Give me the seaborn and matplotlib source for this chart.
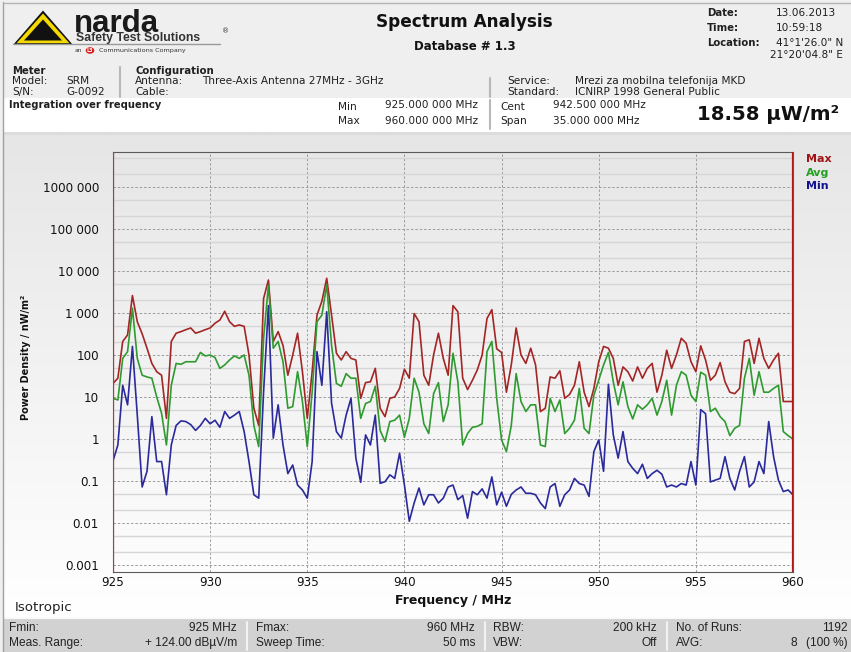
import numpy as np
import pandas as pd
import matplotlib
matplotlib.use("Agg")
import matplotlib.pyplot as plt
from matplotlib.patches import Polygon, Rectangle, Circle
from matplotlib.lines import Line2D
from matplotlib.colors import LinearSegmentedColormap
from matplotlib.ticker import FixedLocator, FixedFormatter, LogLocator, NullFormatter
import seaborn as sns

W, H = 851, 652

# sweep grid: Fmin 925 MHz .. Fmax 960 MHz, read every 0.25 MHz
freq = np.arange(925.0, 960.001, 0.25)

# power density in nW/m^2, one row per MHz (925.00, 925.25, 925.50, 925.75)
max_trace = [
    21, 28, 210, 300,
    2600, 620, 320, 145,
    63, 40, 33, 3.1,
    210, 330, 360, 400,
    440, 330, 360, 400,
    440, 570, 680, 1100,
    620, 480, 520, 480,
    100, 5.4, 2.1, 2200,
    6100, 210, 360, 170,
    33, 100, 330, 40,
    3.1, 40, 890, 1900,
    6700, 890, 110, 76,
    120, 83, 76, 9.3,
    22, 23, 48, 5.4,
    3.4, 9.3, 10, 16,
    46, 28, 970, 620,
    33, 19, 100, 330,
    83, 33, 1500, 1070,
    28, 15, 25, 44,
    100, 740, 1200, 140,
    115, 13, 58, 440,
    100, 63, 145, 58,
    4.5, 5.4, 30, 28,
    42, 9.3, 11.5, 19,
    69, 13, 5.9, 16,
    69, 160, 145, 83,
    19, 52, 40, 24,
    52, 28, 48, 63,
    13, 33, 130, 48,
    100, 250, 190, 69,
    40, 165, 76, 25,
    33, 66, 23, 13,
    12, 16, 210, 230,
    63, 250, 83, 48,
    76, 110, 7.8, 7.8,
    7.8,
]

avg_trace = [
    9.3, 8.5, 83, 120,
    1300, 83, 33, 30,
    28, 10, 4.1, 0.72,
    19, 63, 60, 69,
    69, 69, 115, 95,
    100, 87, 48, 58,
    76, 95, 83, 100,
    33, 2.1, 0.66, 250,
    4500, 145, 210, 69,
    5.4, 5.9, 40, 7.8,
    0.66, 13, 620, 890,
    4700, 170, 21, 18,
    36, 28, 28, 3.1,
    7, 7.8, 18, 1.6,
    0.87, 2.6, 2.8, 3.7,
    1.1, 3.1, 28, 13,
    2.3, 1.35, 12, 22,
    2.6, 6.5, 110, 23,
    0.72, 1.35, 1.9, 2.0,
    2.3, 120, 210, 9.3,
    0.95, 0.5, 2.1, 36,
    7.8, 4.5, 6.5, 6.5,
    0.72, 0.66, 9.3, 4.5,
    8.5, 1.35, 1.8, 2.8,
    16, 1.8, 1.35, 11,
    25, 58, 115, 23,
    6.5, 23, 5.9, 3.0,
    6.5, 5.1, 6.5, 9.3,
    3.7, 7.8, 25, 3.7,
    19, 40, 33, 11,
    7.8, 39, 33, 4.5,
    5.4, 3.4, 2.6, 1.2,
    1.8, 2.1, 28, 83,
    11, 40, 13, 13,
    16, 19, 1.5, 1.2,
    1.0,
]

min_trace = [
    0.3, 0.72, 19, 6.5,
    160, 3.7, 0.072, 0.17,
    3.4, 0.29, 0.29, 0.047,
    0.72, 2.1, 2.7, 2.6,
    2.2, 1.6, 2.1, 3.1,
    2.3, 2.8, 1.9, 4.5,
    3.1, 3.7, 4.5, 1.5,
    0.29, 0.047, 0.039, 13,
    1500, 1.05, 6.5, 0.72,
    0.15, 0.24, 0.08, 0.061,
    0.039, 0.29, 120, 19,
    1070, 7.1, 1.5, 1.05,
    3.7, 9.3, 0.35, 0.093,
    1.25, 0.72, 3.7, 0.088,
    0.096, 0.14, 0.115, 0.46,
    0.08, 0.011, 0.03, 0.068,
    0.027, 0.047, 0.047, 0.03,
    0.039, 0.072, 0.08, 0.036,
    0.045, 0.013, 0.056, 0.047,
    0.065, 0.039, 0.125, 0.027,
    0.054, 0.025, 0.048, 0.061,
    0.072, 0.051, 0.051, 0.047,
    0.03, 0.022, 0.072, 0.087,
    0.025, 0.047, 0.061, 0.115,
    0.087, 0.08, 0.043, 0.5,
    0.95, 0.17, 20, 1.25,
    0.35, 1.5, 0.29, 0.2,
    0.15, 0.25, 0.115, 0.15,
    0.18, 0.145, 0.072, 0.08,
    0.072, 0.087, 0.08, 0.29,
    0.08, 5, 4, 0.095,
    0.105, 0.115, 0.38, 0.115,
    0.061, 0.17, 0.38, 0.072,
    0.095, 0.29, 0.15, 2.6,
    0.38, 0.105, 0.056, 0.061,
    0.047,
]

trace_names = ["Max", "Avg", "Min"]
trace_colors = {"Max": "#a32626", "Avg": "#2f9a2f", "Min": "#2a2a9c"}
legend_colors = {"Max": "#a01414", "Avg": "#22a022", "Min": "#14148f"}

y_ticks = [1e-3, 1e-2, 1e-1, 1, 10, 100, 1e3, 1e4, 1e5, 1e6]
y_labels = ["0.001", "0.01", "0.1", "1", "10", "100", "1 000", "10 000", "100 000", "1000 000"]
x_ticks = [925, 930, 935, 940, 945, 950, 955, 960]

sns.set_style("white")
plt.rcParams["font.family"] = ["DejaVu Sans"]

fig = plt.figure(figsize=(W / 100, H / 100), dpi=100)
fig.patch.set_facecolor("#efefef")


def fx(x):
    return x / W


def fy(y):
    return 1 - y / H


def txt(x, y, s, **kw):
    kw.setdefault("va", "center")
    kw.setdefault("fontsize", 7.6)
    kw.setdefault("color", "#202020")
    fig.text(fx(x), fy(y), s, **kw)


def box(x0, y0, x1, y1, color, z=0):
    fig.patches.append(Rectangle((fx(x0), fy(y1)), (x1 - x0) / W, (y1 - y0) / H,
                                 transform=fig.transFigure, facecolor=color,
                                 edgecolor="none", zorder=z))


def vline(x, y0, y1, color="#b8b8b8", lw=1.5):
    fig.add_artist(Line2D([fx(x), fx(x)], [fy(y0), fy(y1)], color=color, lw=lw))


def hline(y, x0, x1, color="#b8b8b8", lw=1.0):
    fig.add_artist(Line2D([fx(x0), fx(x1)], [fy(y), fy(y)], color=color, lw=lw))


# panel backgrounds
box(4, 98, W, 132, "white")
box(4, 132, W, 135, "#dcdcdc")
box(4, 619, W, H, "#d2d2d2")
hline(618, 4, W, "#fafafa", 1.5)
vline(3, 2, H, "#a0a0a0", 1.0)
hline(2.5, 3, W, "#b4b4b4", 1.0)

# gradient behind the chart panel
grad_cmap = LinearSegmentedColormap.from_list("panel", ["#e6e6e6", "#ffffff"])
bg = fig.add_axes([fx(4), fy(617), (W - 4) / W, (617 - 135) / H])
bg.imshow(np.linspace(0, 1, 256).reshape(-1, 1), aspect="auto", cmap=grad_cmap,
          extent=(0, 1, 0, 1))
bg.axis("off")

# logo
fig.add_artist(Polygon([(fx(13), fy(45)), (fx(43), fy(10.5)), (fx(73), fy(45))],
                       closed=True, transform=fig.transFigure, fc="#111111", ec="none"))
fig.add_artist(Polygon([(fx(16.5), fy(43.2)), (fx(43), fy(13.5)), (fx(69.5), fy(43.2))],
                       closed=True, transform=fig.transFigure, fc="#f4d800", ec="none"))
fig.add_artist(Polygon([(fx(24), fy(40.5)), (fx(43), fy(19.5)), (fx(62), fy(40.5))],
                       closed=True, transform=fig.transFigure, fc="#111111", ec="none"))
txt(74, 32.5, "narda", fontsize=22.5, fontweight="bold", va="baseline",
    family="Liberation Sans", color="#1a1a1a")
txt(76, 41.5, "Safety Test Solutions", fontsize=8.8, fontweight="bold", va="baseline",
    family="Liberation Sans", color="#333333")
txt(222, 31, "®", fontsize=5, color="#333333")
hline(44.3, 13, 220, "#9a9a9a", 1.0)
txt(75, 50.5, "an", fontsize=4.3, color="#333333")
fig.add_artist(Circle((fx(90), fy(50.5)), 4.3 / W, transform=fig.transFigure,
                      fc="#d42020", ec="none"))
txt(90, 50.5, "L3", fontsize=3.5, color="white", ha="center", fontweight="bold")
txt(99, 50.5, "Communications Company", fontsize=4.6, color="#333333")

# title block
txt(464, 22, "Spectrum Analysis", fontsize=12.2, fontweight="bold", ha="center", color="#111111")
txt(465, 46, "Database # 1.3", fontsize=8.5, fontweight="bold", ha="center", color="#111111")

txt(707, 12.5, "Date:", fontweight="bold", fontsize=7.3)
txt(776, 12.5, "13.06.2013")
txt(707, 28, "Time:", fontweight="bold", fontsize=7.3)
txt(776, 28, "10:59:18")
txt(707, 43, "Location:", fontweight="bold", fontsize=7.3)
txt(776, 43, "41°1'26.0\" N")
txt(770, 55, "21°20'04.8\" E")

txt(12, 70.5, "Meter", fontweight="bold", fontsize=7.3)
txt(12, 81, "Model:")
txt(66, 81, "SRM")
txt(12, 92, "S/N:")
txt(66, 92, "G-0092")
vline(120, 67, 97)
txt(135, 70.5, "Configuration", fontweight="bold", fontsize=7.3)
txt(135, 81, "Antenna:")
txt(202, 81, "Three-Axis Antenna 27MHz - 3GHz")
txt(135, 92, "Cable:")
vline(490, 78, 97)
txt(507, 81, "Service:")
txt(575, 81, "Mrezi za mobilna telefonija MKD")
txt(507, 92, "Standard:")
txt(575, 92, "ICNIRP 1998 General Public")

txt(9, 105.5, "Integration over frequency", fontweight="bold", fontsize=7.2)
txt(338, 106.5, "Min")
txt(385, 105.5, "925.000 000 MHz")
txt(338, 121.5, "Max")
txt(385, 120.5, "960.000 000 MHz")
vline(490, 100, 129)
txt(500, 106.5, "Cent")
txt(553, 105, "942.500 000 MHz")
txt(500, 121.5, "Span")
txt(553, 120.5, "35.000 000 MHz")
txt(697, 115, "18.58 µW/m²", fontsize=14.2, fontweight="bold", color="#111111")

# main spectrum axes
ax = fig.add_axes([fx(113), fy(572), (793 - 113) / W, (572 - 152) / H])
ax.set_facecolor("none")
ax.set_yscale("log")

df = pd.DataFrame({"Frequency": freq, "Max": max_trace, "Avg": avg_trace, "Min": min_trace})
long_df = df.melt(id_vars="Frequency", value_vars=trace_names,
                  var_name="Trace", value_name="Power")
sns.lineplot(data=long_df, x="Frequency", y="Power", hue="Trace", hue_order=trace_names,
             palette=trace_colors, linewidth=1.2, estimator=None, legend=False, ax=ax,
             zorder=3)

ax.set_xlim(925, 960)
ax.set_ylim(10 ** -3.167, 10 ** 6.833)
ax.yaxis.set_major_locator(FixedLocator(y_ticks))
ax.yaxis.set_major_formatter(FixedFormatter(y_labels))
ax.yaxis.set_minor_locator(LogLocator(base=10, subs=(2.0, 5.0), numticks=20))
ax.yaxis.set_minor_formatter(NullFormatter())
ax.set_xticks(x_ticks)
ax.set_xticklabels([str(t) for t in x_ticks])
ax.tick_params(axis="both", which="both", length=0, labelsize=8.6, colors="#111111")
ax.tick_params(axis="y", pad=10)
ax.tick_params(axis="x", pad=3)

ax.grid(True, which="major", axis="both", color="#9c9c9c", lw=0.7, ls=(0, (2.5, 2)))
ax.grid(True, which="minor", axis="y", color="#d6d6d6", lw=1.0, ls="-")
ax.set_axisbelow(True)
for side in ["left", "right", "top", "bottom"]:
    ax.spines[side].set_color("#5a5a5a")
    ax.spines[side].set_linewidth(0.8)
ax.axvline(925, color="#d42a2a", lw=1.6, zorder=4)
ax.axvline(960, color="#b01818", lw=1.6, zorder=4)

ax.set_xlabel("Frequency / MHz", fontsize=9, fontweight="bold", color="#111111")
ax.xaxis.set_label_coords(0.5, -0.052)
ax.set_ylabel("Power Density / nW/m²", fontsize=7, fontweight="bold", color="#111111")
ax.yaxis.set_label_coords(-0.12, 0.51)

for i, name in enumerate(trace_names):
    txt(806, 159 + 13.5 * i, name, fontsize=8, fontweight="bold", color=legend_colors[name])

txt(15, 608, "Isotropic", fontsize=9.6, color="#222222")

# footer status bar
foot = dict(family="Liberation Sans", fontsize=8.6, color="#222222")
txt(9, 628, "Fmin:", **foot)
txt(237, 628, "925 MHz", ha="right", **foot)
txt(256, 628, "Fmax:", **foot)
txt(475, 628, "960 MHz", ha="right", **foot)
txt(493, 628, "RBW:", **foot)
txt(657, 628, "200 kHz", ha="right", **foot)
txt(676, 628, "No. of Runs:", **foot)
txt(848, 628, "1192", ha="right", **foot)
txt(9, 643, "Meas. Range:", **foot)
txt(237, 643, "+ 124.00 dBµV/m", ha="right", **foot)
txt(256, 643, "Sweep Time:", **foot)
txt(475, 643, "50 ms", ha="right", **foot)
txt(493, 643, "VBW:", **foot)
txt(657, 643, "Off", ha="right", **foot)
txt(676, 643, "AVG:", **foot)
txt(797, 643, "8", ha="right", **foot)
txt(848, 643, "(100 %)", ha="right", **foot)
for x in [247, 485, 667]:
    vline(x, 622, 650, "#f2f2f2", 1.5)

fig.savefig("out.png", dpi=100, facecolor=fig.get_facecolor())
